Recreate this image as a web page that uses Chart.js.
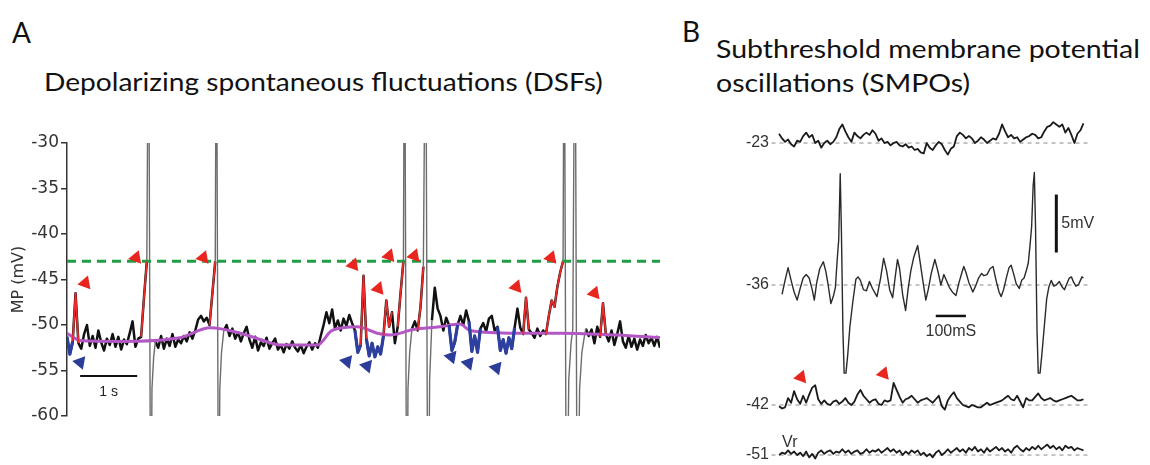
<!DOCTYPE html>
<html>
<head>
<meta charset="utf-8">
<script src="https://cdn.jsdelivr.net/npm/chart.js@4.4.1/dist/chart.umd.min.js"></script>
<style>
  html, body { margin: 0; padding: 0; background: #fff; }
  body { width: 1150px; height: 465px; position: relative; overflow: hidden; font-family: Lato, "Open Sans", sans-serif; color: #111; }
  .lbl { position: absolute; white-space: nowrap; line-height: 1; transform-origin: 0 0; }
  .wide { transform: scaleX(1.125); }
  #panelA { position: absolute; left: 0; top: 120px; }
  #panelB { position: absolute; left: 700px; top: 100px; }
</style>
</head>
<body>
<div class="lbl" style="left:12px;top:18px;font-size:28px;">A</div>
<div class="lbl wide" style="left:44px;top:69px;font-size:25px;">Depolarizing spontaneous fluctuations (DSFs)</div>
<div class="lbl" style="left:682px;top:17px;font-size:28px;">B</div>
<div class="lbl wide" style="left:716px;top:31px;font-size:25px;line-height:34.4px;transform:scaleX(1.14);">Subthreshold membrane potential<br>oscillations (SMPOs)</div>
<canvas id="panelA" width="680" height="310"></canvas>
<canvas id="panelB" width="450" height="365"></canvas>

<script>
// ---------------- Panel A: membrane potential recording (mV), one sample every 0.05 s ----------------
const dtA = 0.05;
const vmA = [
  -51.3, -53.2, -51.8, -46.5, -52.0, -52.6, -51.0, -50.0, -52.3, -51.2,   // 0
  -52.5, -50.6, -51.9, -52.8, -51.5, -52.2, -51.0, -52.4, -51.3, -52.7,   // 10
  -51.6, -52.1, -50.9, -49.6, -52.4, -51.5, -51.3, -47.0, -43.0, null,    // 20
  null,  -51.8, -52.5, -51.2, -52.6, -51.5, -52.3, -51.0, -52.4, -51.6,   // 30
  -52.0, -51.2, -51.8, -50.8, -51.5, -50.6, -49.4, -49.0, -49.6, -49.2,   // 40
  -50.0, -46.5, -43.0, null,  null,  -50.6, -50.0, -51.2, -50.4, -51.5,   // 50
  -50.8, -51.8, -50.9, -50.2, -51.6, -52.5, -51.3, -52.8, -51.9, -52.3,   // 60
  -51.4, -52.6, -52.0, -51.5, -52.7, -52.2, -53.0, -52.1, -52.6, -51.8,   // 70
  -52.5, -52.9, -52.2, -53.1, -52.4, -51.9, -52.7, -52.0, -52.5, -51.2,   // 80
  -50.0, -48.6, -49.8, -48.3, -50.4, -49.5, -50.6, -49.3, -50.1, -48.9,   // 90
  -49.8, -50.6, -53.0, -52.2, -44.6, -51.5, -53.4, -52.0, -53.5, -52.4,   // 100
  -53.2, -51.2, -47.3, -50.2, -48.6, -52.0, -50.2, -46.5, -43.0, null,    // 110
  null,  -50.4, -49.6, -50.6, -48.0, -43.6, null,  null,  -49.5, -45.9,   // 120
  -48.2, -49.0, -50.6, -49.2, -50.0, -52.8, -51.9, -50.0, -49.0, -50.0,   // 130
  -48.4, -49.6, -52.9, -51.2, -53.0, -50.4, -49.8, -50.7, -49.3, -49.0,   // 140
  -50.6, -50.2, -52.8, -51.6, -53.1, -51.4, -52.6, -50.3, -48.2, -50.3,   // 150
  -51.0, -47.0, -50.5, -50.9, -51.4, -50.4, -51.2, -50.6, -51.0, -49.0,   // 160
  -47.3, -48.0, -45.8, -44.2, -43.0, null,  null,  null,  null,  null,    // 170
  null,  null,  -50.4, -51.2, -50.5, -52.0, -50.2, -51.3, -47.6, -51.0,   // 180
  -51.8, -50.6, -52.2, -51.0, -49.6, -51.8, -52.5, -51.2, -52.4, -51.5,   // 190
  -52.7, -51.6, -52.3, -51.1, -52.0, -51.4, -52.3, -51.3, -52.5           // 200
];
// sample-index ranges of the depolarizing events (red) and hyperpolarizing dips (blue)
const dsfSpans = [[2, 4], [26, 28], [50, 52], [103, 105], [111, 114], [116, 118], [123, 125], [160, 162], [168, 174], [187, 189]];
const hypSpans = [[0, 2], [101, 103], [105, 111], [134, 137], [141, 145], [151, 157]];
// action potentials [s, mV]; the recording is clipped at the axis limits
const spikesA = [
  [[1.40, -43], [1.43, -10], [1.47, -80], [1.49, -57], [1.52, -53.5], [1.55, -51.8]],
  [[2.60, -43], [2.62, -10], [2.66, -80], [2.68, -57], [2.71, -53], [2.75, -50.6]],
  [[5.90, -43], [5.92, -10], [5.96, -80], [5.98, -57], [6.01, -53], [6.05, -50.4]],
  [[6.25, -43.6], [6.29, -10], [6.33, -80], [6.36, -56], [6.40, -49.5]],
  [[8.70, -43], [8.72, -10], [8.76, -80], [8.80, -56], [8.84, -52], [8.87, -50.5],
   [8.91, -10], [8.95, -80], [8.99, -57], [9.03, -53], [9.08, -51], [9.10, -50.4]]
];
// running mean of the membrane potential [s, mV]
const meanA = [[0, -50.9], [0.23, -51.7], [0.93, -51.8], [1.98, -51.4], [2.51, -50.3], [3.04, -50.9],
  [3.44, -51.7], [3.74, -52.2], [4.39, -52.2], [4.65, -50.6], [5.09, -50.2], [5.44, -50.9], [5.67, -51.1],
  [6.07, -50.5], [6.54, -50.2], [6.89, -49.9], [7.07, -50.6], [7.89, -50.9], [8.65, -50.9], [9.65, -51.1], [10.4, -51.4]];
const thresholdA = -43;
const durationA = 10.4;
// event markers [s, mV]
const dsfMarks = [[0.32, -45.4], [1.21, -42.6], [2.39, -42.6], [5.02, -43.4], [5.46, -46.0], [5.65, -42.4],
  [6.09, -42.4], [7.88, -45.8], [8.49, -42.6], [9.25, -46.5]];
const hypMarks = [[0.23, -54.1], [4.91, -54.0], [5.26, -54.5], [6.74, -53.5], [7.04, -54.2], [7.53, -54.7]];
const yTicksA = [-60, -55, -50, -45, -40, -35, -30];
const timeBarA = { from: 0.23, to: 1.23, at: -55.6, label: '1 s', labelAt: -57.4 };

// ---------------- Panel B: four recordings, one sample every 10 ms ----------------
const dtB = 10;
const vm23 = [
  -22.2, -22.6, -22.9, -22.7, -23.1, -23.3, -22.8, -22.9, -22.4, -22.1,
  -22.5, -22.3, -23.0, -22.8, -23.4, -23.0, -22.8, -23.1, -22.9, -22.5,
  -21.8, -21.4, -22.0, -22.5, -22.9, -22.1, -22.4, -22.6, -22.3, -22.1,
  -22.3, -21.9, -22.2, -22.8, -22.6, -23.0, -22.9, -23.2, -23.0, -22.9,
  -23.2, -23.3, -23.1, -23.4, -23.3, -23.6, -23.5, -23.8, -23.9, -23.0,
  -23.4, -23.6, -23.2, -22.9, -23.1, -23.6, -24.0, -23.5, -23.3, -22.4,
  -22.1, -22.3, -22.6, -22.4, -22.6, -23.0, -22.8, -22.5, -22.7, -23.0,
  -22.8, -22.6, -22.7, -22.2, -21.4, -22.0, -22.5, -22.3, -22.6, -22.5,
  -22.9, -22.7, -22.5, -22.4, -22.2, -22.3, -22.6, -22.5, -22.0, -21.6,
  -21.5, -21.2, -21.4, -21.6, -21.4, -22.1, -21.7, -22.3, -23.0, -22.2,
  -21.9, -21.3
];
const vm36 = [[10, -36.8], [20, -35.6], [30, -34.5], [40, -35.6], [50, -36.6], [60, -37.3], [70, -36.3],
  [80, -35.4], [90, -35.1], [100, -35.4], [110, -36.4], [117, -37.3], [125, -35.8], [135, -34.6], [147, -34.0],
  [155, -34.8], [163, -36.0], [172, -37.6], [180, -37.0], [187, -36.2], [193, -33.8], [198, -32.1], [203, -26.4],
  [207, -31.5], [212, -40.0], [216, -43.6], [222, -43.6], [228, -42.0], [235, -39.6], [245, -37.4], [255, -35.5],
  [262, -35.3], [270, -35.6], [280, -36.4], [290, -36.5], [300, -35.7], [310, -36.3], [325, -37.0], [337, -35.4],
  [347, -33.7], [357, -34.8], [367, -36.4], [377, -37.1], [385, -35.4], [393, -33.8], [400, -34.6], [410, -36.8],
  [420, -38.2], [428, -36.4], [437, -34.8], [447, -33.6], [460, -32.6], [468, -34.0], [477, -35.6], [487, -37.3],
  [495, -36.4], [505, -35.0], [517, -33.8], [527, -34.8], [537, -36.0], [547, -35.1], [555, -35.6], [565, -36.2],
  [575, -36.6], [587, -36.9], [597, -35.8], [607, -34.9], [613, -34.4], [620, -34.9], [630, -35.8], [643, -36.6],
  [652, -36.1], [662, -35.4], [672, -35.0], [680, -35.2], [690, -35.1], [700, -34.6], [710, -34.4], [720, -35.6],
  [730, -36.6], [737, -37.0], [745, -36.4], [755, -35.3], [763, -34.5], [770, -34.3], [778, -35.0], [787, -35.9],
  [797, -36.3], [805, -35.6], [813, -35.4], [820, -34.8], [827, -34.1], [833, -32.5], [838, -31.0], [843, -27.5],
  [847, -26.3], [851, -31.0], [856, -40.0], [860, -43.6], [866, -43.6], [872, -42.0], [880, -39.6], [888, -37.2],
  [895, -36.2], [903, -35.6], [912, -36.1], [920, -36.0], [930, -35.7], [940, -36.2], [947, -36.4], [955, -35.9],
  [963, -35.4], [970, -35.3], [978, -35.8], [985, -36.1], [993, -36.0], [1000, -35.6], [1005, -35.3], [1010, -35.4]];
const vm42 = [
  -42.1, -42.3, -42.2, -41.4, -41.8, -40.8, -41.5, -41.9, -41.2, -41.8,
  -41.1, -40.5, -40.3, -41.5, -41.9, -41.6, -41.9, -42.0, -41.7, -41.6,
  -41.9, -41.7, -41.4, -41.8, -42.0, -41.7, -41.1, -40.7, -41.2, -41.5,
  -41.8, -41.6, -41.5, -41.9, -42.0, -41.6, -41.7, -41.6, -40.1, -40.7,
  -41.3, -41.8, -41.5, -41.4, -41.2, -41.5, -41.8, -41.6, -41.5, -41.4,
  -41.6, -41.8, -41.5, -41.2, -42.1, -42.4, -41.6, -41.2, -40.9, -41.4,
  -41.7, -42.0, -42.1, -42.2, -42.0, -42.1, -42.2, -42.2, -42.0, -41.8,
  -42.0, -41.9, -41.8, -41.7, -41.6, -41.4, -41.2, -41.5, -41.6, -41.2,
  -41.7, -42.2, -41.4, -41.6, -41.6, -41.3, -41.0, -41.4, -41.6, -41.5,
  -41.4, -41.6, -41.7, -41.6, -41.5, -41.4, -41.3, -41.2, -41.4, -41.6,
  -41.6, -41.5
];
const vm51 = [
  -51.0, -50.8, -50.9, -50.6, -50.9, -50.7, -51.0, -50.8, -51.1, -50.7,
  -51.2, -50.9, -51.3, -50.8, -50.6, -50.9, -50.7, -50.6, -50.9, -50.7,
  -50.8, -50.5, -50.8, -50.6, -50.9, -50.7, -50.6, -50.9, -50.8, -50.5,
  -50.8, -50.6, -50.7, -50.5, -50.8, -50.6, -50.4, -50.7, -50.5, -50.8,
  -50.6, -51.0, -50.7, -50.9, -50.6, -50.8, -50.6, -51.0, -50.8, -51.1,
  -50.9, -51.2, -50.8, -50.6, -51.0, -50.8, -50.5, -50.8, -50.6, -50.4,
  -50.7, -50.5, -50.8, -50.4, -50.6, -50.3, -50.7, -50.5, -50.8, -50.4,
  -50.7, -50.5, -50.3, -50.6, -50.4, -50.7, -50.5, -50.8, -50.4, -50.2,
  -50.5, -50.7, -50.4, -50.6, -50.3, -50.5, -50.2, -50.5, -50.3, -50.1,
  -50.4, -50.2, -50.5, -50.3, -50.6, -50.2, -50.4, -50.3, -50.6, -50.4,
  -50.5, -50.6
];
const levelsB = [-23, -36, -42, -51];
const levelLabelsB = ['-23', '-36', '-42', '-51'];
const smpoMarks = [[73, -39.6], [347, -39.3]];   // [ms, mV] on the -42 recording
const voltBarB = { t: 920, from: -33.2, to: -28.2, label: '5mV' };
const timeBarB = { from: 520, to: 620, at: -38.67, label: '100mS', labelAt: -40.05 };
const restLabelB = { t: 10, v: -49.9, label: 'Vr' };

// ---------------- helpers ----------------
const pts = arr => arr.map(([x, y]) => ({ x, y }));
const sampled = (vals, dt) => vals.map((v, i) => ({ x: +(i * dt).toFixed(4), y: v }));
function spanPoints(spans) {
  const out = [];
  spans.forEach(([a, b]) => {
    for (let i = a; i <= b; i++) out.push({ x: +(i * dtA).toFixed(4), y: vmA[i] });
    out.push({ x: +(b * dtA).toFixed(4) + 0.001, y: null });
  });
  return out;
}
function joined(list) {
  const out = [];
  list.forEach(seg => { seg.forEach(([x, y]) => out.push({ x, y })); out.push({ x: seg[seg.length - 1][0] + 0.001, y: null }); });
  return out;
}
const sansFont = '"Liberation Sans", Arial, sans-serif';
const axisFont = '"DejaVu Sans", sans-serif';
const baseOpts = {
  responsive: false, animation: false, devicePixelRatio: 1, events: [],
  plugins: { legend: { display: false }, tooltip: { enabled: false } },
  elements: { point: { radius: 0 }, line: { borderJoinStyle: 'round', tension: 0 } }
};

// ---------------- Panel A chart ----------------
const textA = {
  id: 'textA',
  afterDatasetsDraw(chart) {
    const { ctx, scales: { x, y } } = chart;
    ctx.save();
    ctx.font = '14px ' + sansFont;
    ctx.fillStyle = '#222';
    ctx.textAlign = 'center';
    ctx.textBaseline = 'middle';
    ctx.fillText(timeBarA.label, x.getPixelForValue((timeBarA.from + timeBarA.to) / 2), y.getPixelForValue(timeBarA.labelAt));
    ctx.restore();
  }
};

new Chart(document.getElementById('panelA'), {
  type: 'line',
  data: {
    datasets: [
      { data: pts(dsfMarks), showLine: false, pointStyle: 'triangle', pointRotation: 20, pointRadius: 8,
        pointBackgroundColor: '#e8261f', pointBorderWidth: 0, order: 0 },
      { data: pts(hypMarks), showLine: false, pointStyle: 'triangle', pointRotation: 40, pointRadius: 8,
        pointBackgroundColor: '#2b3c99', pointBorderWidth: 0, order: 0 },
      { data: [{ x: timeBarA.from, y: timeBarA.at }, { x: timeBarA.to, y: timeBarA.at }], borderColor: '#111', borderWidth: 2, order: 0 },
      { data: spanPoints(dsfSpans), borderColor: '#ec2b2b', borderWidth: 1.8, order: 1 },
      { data: spanPoints(hypSpans), borderColor: '#2d409f', borderWidth: 3.2, order: 1 },
      { data: pts(meanA), borderColor: '#b457c6', borderWidth: 3, cubicInterpolationMode: 'monotone', order: 2 },
      { data: [{ x: 0, y: thresholdA }, { x: durationA, y: thresholdA }], borderColor: '#1f9e46', borderWidth: 3, borderDash: [9, 6], order: 3 },
      { data: joined(spikesA), borderColor: '#6d6d6d', borderWidth: 1.4, order: 4 },
      { data: sampled(vmA, dtA), borderColor: '#111', borderWidth: 2.5, order: 5 }
    ]
  },
  options: {
    ...baseOpts,
    layout: { autoPadding: false, padding: { top: 23, right: 20, bottom: 14, left: 0 } },
    scales: {
      x: { type: 'linear', min: 0, max: durationA, display: false },
      y: {
        min: yTicksA[0], max: yTicksA[yTicksA.length - 1],
        afterFit(s) { s.width = 67; },
        afterBuildTicks(s) { s.ticks = yTicksA.map(v => ({ value: v })); },
        ticks: { color: '#333', font: { family: axisFont, size: 17 }, padding: 2 },
        grid: { drawOnChartArea: false, drawTicks: true, tickLength: 6, color: '#333', lineWidth: 1.5 },
        border: { display: true, color: '#333', width: 1.5 },
        title: { display: true, text: 'MP (mV)', color: '#333', font: { family: axisFont, size: 16 }, padding: { top: 9, bottom: 0 } }
      }
    }
  },
  plugins: [textA]
});

// ---------------- Panel B chart ----------------
const axisIds = ['y23', 'y36', 'y42', 'y51'];
const textB = {
  id: 'textB',
  afterDatasetsDraw(chart) {
    const { ctx, chartArea, scales } = chart;
    ctx.save();
    ctx.font = '16px ' + sansFont;
    ctx.fillStyle = '#333';
    ctx.textBaseline = 'middle';
    ctx.textAlign = 'right';
    levelsB.forEach((lv, k) => ctx.fillText(levelLabelsB[k], chartArea.left - 1, scales[axisIds[k]].getPixelForValue(lv)));
    ctx.textAlign = 'left';
    ctx.fillText(restLabelB.label, scales.x.getPixelForValue(restLabelB.t), scales.y51.getPixelForValue(restLabelB.v));
    ctx.fillText(voltBarB.label, scales.x.getPixelForValue(voltBarB.t) + 5, scales.y36.getPixelForValue((voltBarB.from + voltBarB.to) / 2));
    ctx.textAlign = 'center';
    ctx.fillText(timeBarB.label, scales.x.getPixelForValue((timeBarB.from + timeBarB.to) / 2), scales.y36.getPixelForValue(timeBarB.labelAt));
    ctx.restore();
  }
};

const baselineSets = levelsB.map((lv, k) => ({
  data: [{ x: -25, y: lv }, { x: 1037, y: lv }], yAxisID: axisIds[k],
  borderColor: '#8a8a8a', borderWidth: 1, borderDash: [4, 4], order: 5
}));

new Chart(document.getElementById('panelB'), {
  type: 'line',
  data: {
    datasets: [
      { data: pts(smpoMarks), yAxisID: 'y42', showLine: false, pointStyle: 'triangle', pointRotation: 20, pointRadius: 8,
        pointBackgroundColor: '#e8261f', pointBorderWidth: 0, order: 0 },
      { data: [{ x: voltBarB.t, y: voltBarB.from }, { x: voltBarB.t, y: voltBarB.to }], yAxisID: 'y36', borderColor: '#111', borderWidth: 3, order: 0 },
      { data: [{ x: timeBarB.from, y: timeBarB.at }, { x: timeBarB.to, y: timeBarB.at }], yAxisID: 'y36', borderColor: '#111', borderWidth: 2.5, order: 0 },
      { data: sampled(vm23, dtB), yAxisID: 'y23', borderColor: '#1a1a1a', borderWidth: 1.8, order: 2 },
      { data: pts(vm36), yAxisID: 'y36', borderColor: '#2a2a2a', borderWidth: 1.4, order: 2 },
      { data: sampled(vm42, dtB), yAxisID: 'y42', borderColor: '#1a1a1a', borderWidth: 1.8, order: 2 },
      { data: sampled(vm51, dtB), yAxisID: 'y51', borderColor: '#1a1a1a', borderWidth: 1.8, order: 2 },
      ...baselineSets
    ]
  },
  options: {
    ...baseOpts,
    layout: { autoPadding: false, padding: { top: 0, right: 56, bottom: 0, left: 70 } },
    scales: {
      x: { type: 'linear', min: -30, max: 1045, display: false },
      y23: { display: false, min: -50.76, max: -19.29 },
      y36: { display: false, min: -51.52, max: -20.05 },
      y42: { display: false, min: -47.17, max: -15.71 },
      y51: { display: false, min: -51.86, max: -20.40 }
    }
  },
  plugins: [textB]
});
</script>
</body>
</html>
